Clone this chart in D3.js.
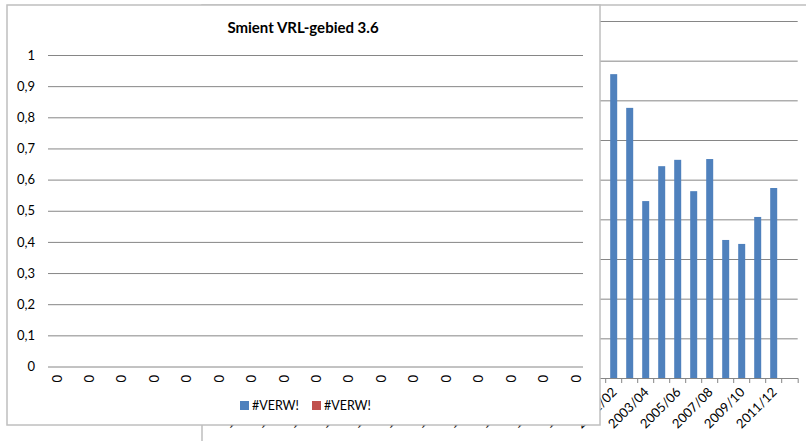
<!DOCTYPE html>
<html lang="nl">
<head>
<meta charset="utf-8">
<script src="https://cdn.jsdelivr.net/npm/d3@7/dist/d3.min.js"></script>
<style>
  body { margin: 0; background: #fff; }
  text { font-family: Lato, "Open Sans", sans-serif; fill: #000; }
</style>
</head>
<body>
<div id="chart"></div>
<script>
    // back chart: bars per season, most of it hidden behind the front chart
    var seasons = ["1979/80","1980/81","1981/82","1982/83","1983/84","1984/85",
        "1985/86","1986/87","1987/88","1988/89","1989/90","1990/91","1991/92","1992/93","1993/94",
        "1994/95","1995/96","1996/97","1997/98","1998/99","1999/00","2000/01","2001/02","2002/03",
        "2003/04","2004/05","2005/06","2006/07","2007/08","2008/09","2009/10","2010/11","2011/12","2012/13"]
    var barSeasons = ["2001/02","2002/03","2003/04","2004/05","2005/06","2006/07",
        "2007/08","2008/09","2009/10","2010/11","2011/12"]
    var barValues = [7.66, 6.81, 4.46, 5.34, 5.50, 4.71, 5.52, 3.48, 3.38, 4.06, 4.79]
    var backTicks = [1, 2, 3, 4, 5, 6, 7, 8, 9]

    // front chart: broken references, everything 0
    var frontTitle = "Smient VRL-gebied 3.6"
    var frontCats = ["0","0","0","0","0","0","0","0","0","0","0","0","0","0","0","0","0"]
    var serie1 = [0,0,0,0,0,0,0,0,0,0,0,0,0,0,0,0,0]
    var serie2 = [0,0,0,0,0,0,0,0,0,0,0,0,0,0,0,0,0]
    var legendNames = ["#VERW!", "#VERW!"]
    var frontTicks = [0, 0.1, 0.2, 0.3, 0.4, 0.5, 0.6, 0.7, 0.8, 0.9, 1]

    var width = 806,
        height = 441,
        blue = "#4F81BD",
        red = "#C0504D",
        grid = "#868686",
        border = "#BFBFBF"

    var svg = d3.select("#chart").append("svg")
        .attr("width", width)
        .attr("height", height)

    // ---------- back chart ----------
    var back = svg.append("g")
    back.append("rect")
        .attr("x", 202).attr("y", 5)
        .attr("width", 640).attr("height", 460)
        .attr("fill", "#fff")
        .attr("stroke", border).attr("stroke-width", 1.5)

    var bx = d3.scaleBand().domain(seasons).range([253.7, 797.7])
    var by = d3.scaleLinear().domain([0, 9]).range([378, 21])

    var byAx = back.append("g")
        .attr("transform", "translate(253.7,0)")
        .call(d3.axisLeft(by).tickValues(backTicks).tickSize(-(797.7 - 253.7)).tickFormat(""))
    byAx.select(".domain").remove()
    byAx.selectAll("line").attr("stroke", grid)

    back.selectAll(".bar")
        .data(barSeasons)
        .enter().append("rect")
        .attr("x", function(d) { return bx(d) + bx.bandwidth() / 2 - 3.5 })
        .attr("width", 7)
        .attr("y", function(d, i) { return by(barValues[i]) })
        .attr("height", function(d, i) { return by(0) - by(barValues[i]) })
        .attr("fill", blue)

    var xAx = back.append("g")
        .attr("transform", "translate(0,378)")
        .call(d3.axisBottom(bx).tickSize(5).tickFormat(""))
    xAx.select(".domain").attr("stroke", grid)
    xAx.selectAll(".tick line")
        .attr("transform", "translate(" + (-bx.bandwidth() / 2) + ",0)")
        .attr("stroke", grid)

    back.selectAll(".blab")
        .data(seasons.filter(function(d, i) { return i % 2 == 0 }))
        .enter().append("text")
        .attr("transform", function(d) {
            return "translate(" + (bx(d) + bx.bandwidth() / 2 + 4) + ",393) rotate(-45)"
        })
        .attr("text-anchor", "end")
        .style("font-size", "13px")
        .text(function(d) { return d })

    // ---------- front chart ----------
    var front = svg.append("g")
    front.append("rect")
        .attr("x", 7).attr("y", 5)
        .attr("width", 593).attr("height", 420)
        .attr("fill", "#fff")
        .attr("stroke", border).attr("stroke-width", 1.5)

    front.append("text")
        .attr("x", 303).attr("y", 33)
        .attr("text-anchor", "middle")
        .style("font-size", "15px").style("font-weight", "bold")
        .text(frontTitle)

    var fy = d3.scaleLinear().domain([0, 1]).range([366.5, 55])
    var fx = d3.scalePoint().domain(d3.range(frontCats.length)).range([57, 576])

    var fyAx = front.append("g")
        .attr("transform", "translate(48,0)")
        .call(d3.axisLeft(fy).tickValues(frontTicks).tickSize(-(583 - 48)).tickPadding(13)
            .tickFormat(function(d) {
                return (d == 0 || d == 1) ? String(d) : d.toFixed(1).replace(".", ",")
            }))
    fyAx.select(".domain").remove()
    fyAx.selectAll("line").attr("stroke", grid)
    fyAx.selectAll("text").style("font-size", "13px").attr("font-family", null)

    // both series are 0 everywhere, so no bar height
    front.selectAll(".s1")
        .data(serie1)
        .enter().append("rect")
        .attr("x", function(d, i) { return fx(i) - 6 })
        .attr("width", 6)
        .attr("y", function(d) { return fy(d) })
        .attr("height", function(d) { return fy(0) - fy(d) })
        .attr("fill", blue)
    front.selectAll(".s2")
        .data(serie2)
        .enter().append("rect")
        .attr("x", function(d, i) { return fx(i) })
        .attr("width", 6)
        .attr("y", function(d) { return fy(d) })
        .attr("height", function(d) { return fy(0) - fy(d) })
        .attr("fill", red)

    front.selectAll(".flab")
        .data(frontCats)
        .enter().append("text")
        .attr("transform", function(d, i) {
            return "translate(" + (fx(i) + 4.5) + ",375) rotate(-90)"
        })
        .attr("text-anchor", "end")
        .style("font-size", "13px")
        .text(function(d) { return d })

    var legend = front.selectAll(".leg")
        .data(legendNames)
        .enter().append("g")
        .attr("transform", function(d, i) { return "translate(" + (240 + i * 72) + ",401)" })
    legend.append("rect")
        .attr("width", 9).attr("height", 9)
        .attr("fill", function(d, i) { return i == 0 ? blue : red })
    legend.append("text")
        .attr("x", 12).attr("y", 9)
        .style("font-size", "12.5px")
        .text(function(d) { return d })
</script>
</body>
</html>
